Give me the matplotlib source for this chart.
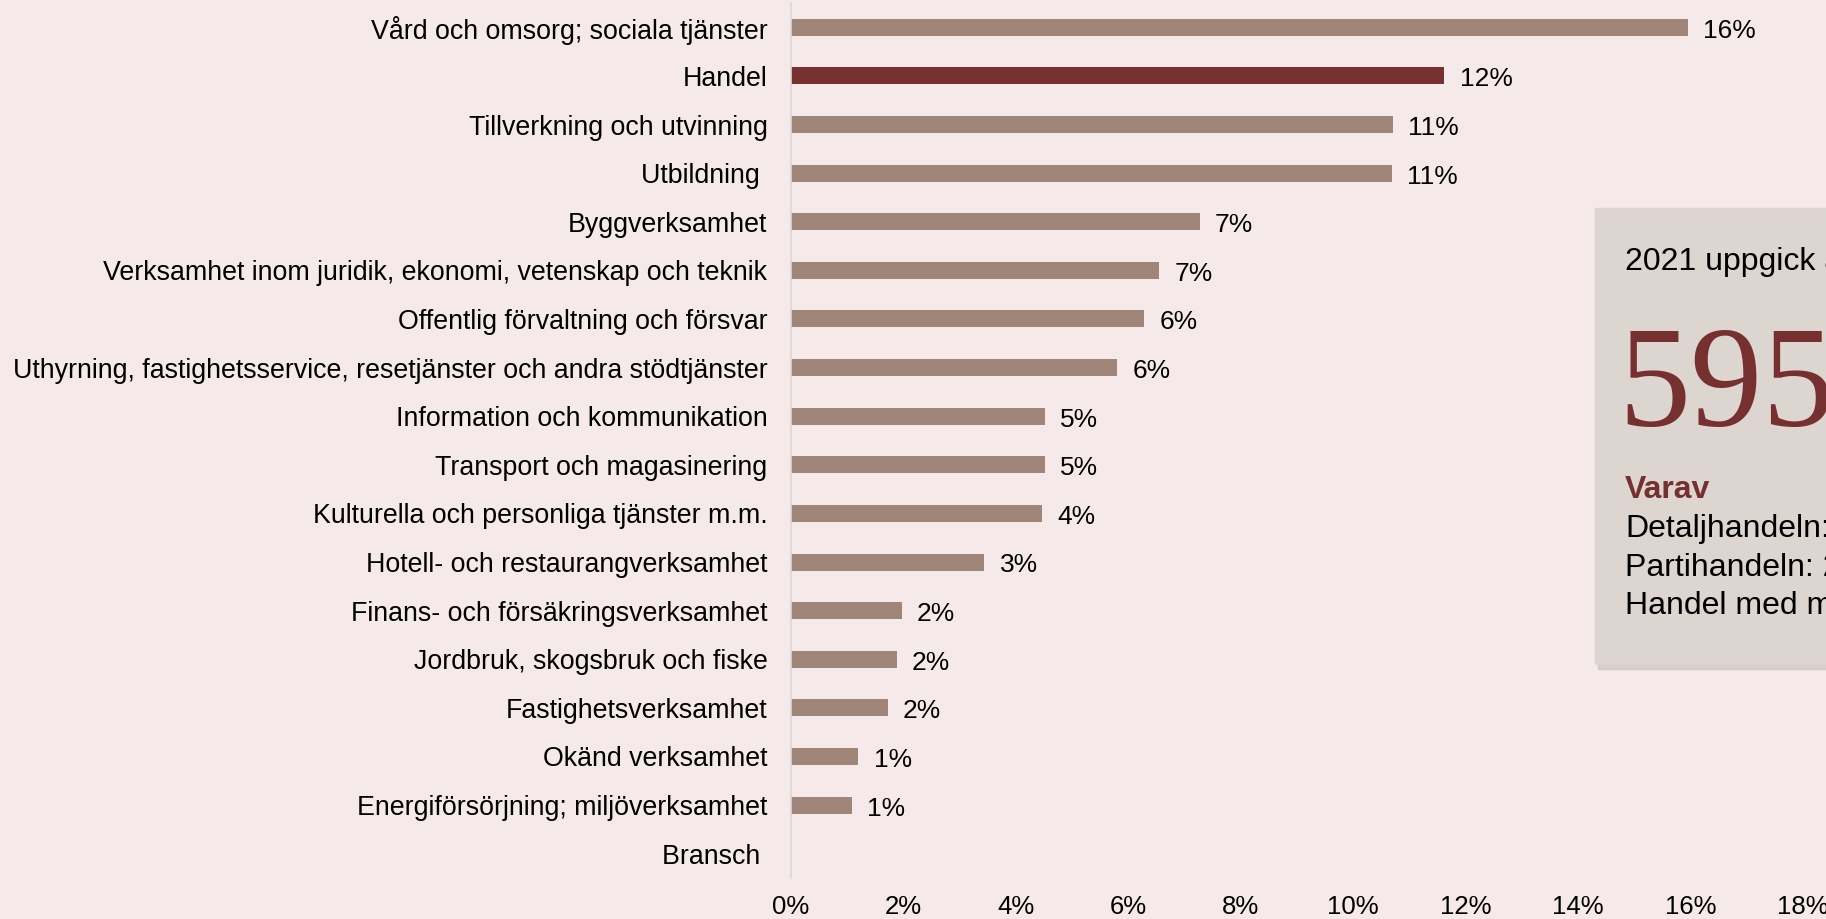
import matplotlib
matplotlib.use("Agg")
import matplotlib.pyplot as plt
from matplotlib.patches import Rectangle

branscher = [
    "Vård och omsorg; sociala tjänster",
    "Handel",
    "Tillverkning och utvinning",
    "Utbildning ",
    "Byggverksamhet",
    "Verksamhet inom juridik, ekonomi, vetenskap och teknik",
    "Offentlig förvaltning och försvar",
    "Uthyrning, fastighetsservice, resetjänster och andra stödtjänster",
    "Information och kommunikation",
    "Transport och magasinering",
    "Kulturella och personliga tjänster m.m.",
    "Hotell- och restaurangverksamhet",
    "Finans- och försäkringsverksamhet",
    "Jordbruk, skogsbruk och fiske",
    "Fastighetsverksamhet",
    "Okänd verksamhet",
    "Energiförsörjning; miljöverksamhet",
    "Bransch ",
]
andel = [15.95, 11.62, 10.71, 10.69, 7.27, 6.55, 6.28, 5.80, 4.52, 4.51,
         4.47, 3.44, 1.97, 1.88, 1.72, 1.20, 1.08, None]
xticks = [0, 2, 4, 6, 8, 10, 12, 14, 16, 18]

box_rader = ["Detaljhandeln:", "Partihandeln: 2", "Handel med m"]

bg = "#F5E9E9"
bar_col = "#A08678"
hl_col = "#76302F"
sans = ["Liberation Sans", "DejaVu Sans"]
narrow = ["Liberation Sans Narrow", "Liberation Sans", "DejaVu Sans"]

W, H = 1826, 919
fig = plt.figure(figsize=(W / 100, H / 100), dpi=100, facecolor=bg)
ax = fig.add_axes([791 / W, 1 - 878 / H, (1803 - 791) / W, (878 - 3) / H])
ax.set_facecolor(bg)

ypos = list(range(len(branscher)))
vals = [v if v is not None else 0 for v in andel]
colors = [hl_col if b == "Handel" else bar_col for b in branscher]
ax.barh(ypos, vals, height=0.35, color=colors)
for y, v in zip(ypos, andel):
    if v is None:
        continue
    ax.annotate(f"{v:.0f}%", (v, y), xytext=(11, -2.5), textcoords="offset points",
                va="center", ha="left", fontsize=19, family=narrow)

ax.set_ylim(len(branscher) - 0.5, -0.5)
ax.set_xlim(0, 18)
ax.set_yticks(ypos)
ax.set_yticklabels(branscher, fontsize=19.3, family=sans)
ax.set_xticks(xticks)
ax.set_xticklabels([f"{t}%" for t in xticks], fontsize=18.5, family=narrow)
ax.tick_params(axis="y", length=0, pad=17)
ax.tick_params(axis="x", length=0, pad=12)
for s in ["top", "right", "bottom"]:
    ax.spines[s].set_visible(False)
ax.spines["left"].set_color("#D9D9D9")
ax.spines["left"].set_linewidth(1.2)

# textruta till höger (klipps av bildkanten)
bx0, by0, by1 = 1595, 208, 664
fig.patches.append(Rectangle(((bx0 + 3) / W, 1 - (by1 + 5) / H), 0.3, (by1 - by0) / H,
                             transform=fig.transFigure, color="#BDB4B0", alpha=0.5, zorder=0))
fig.patches.append(Rectangle((bx0 / W, 1 - by1 / H), 0.3, (by1 - by0) / H,
                             transform=fig.transFigure, color="#DDD5D0", zorder=1))
fig.text(1625 / W, 1 - 262 / H, "2021 uppgick a", fontsize=23, family=sans, va="center")
fig.text(1618 / W, 1 - 426 / H, "595", fontsize=104, family=["Liberation Serif", "DejaVu Serif"],
         color=hl_col, va="baseline")
fig.text(1625 / W, 1 - 490 / H, "Varav", fontsize=23, family=sans, weight="bold",
         color=hl_col, va="center")
for i, r in enumerate(box_rader):
    fig.text(1625 / W, 1 - (528.5 + 39 * i) / H, r, fontsize=23, family=sans, va="center")

fig.savefig("out.png", dpi=100, facecolor=bg)
